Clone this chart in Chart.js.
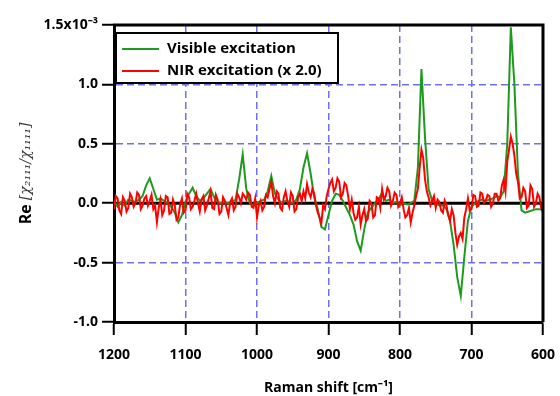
<!DOCTYPE html>
<html>
<head>
<meta charset="utf-8">
<script src="https://cdn.jsdelivr.net/npm/chart.js@4.4.1/dist/chart.umd.min.js"></script>
<style>
  html, body { margin: 0; padding: 0; background: #fff; }
  #wrap { width: 560px; height: 396px; }
</style>
</head>
<body>
<div id="wrap"><canvas id="ramanChart" width="560" height="396"></canvas></div>
<script>
// Raman shift in cm^-1 for the visible trace (x axis runs 1200 -> 600)
const shift = [
  1200, 1195, 1190, 1185, 1180, 1175, 1170, 1165, 1160, 1155,
  1150, 1145, 1140, 1135, 1130, 1125, 1120, 1115, 1110, 1105,
  1100, 1095, 1090, 1085, 1080, 1075, 1070, 1065, 1060, 1055,
  1050, 1045, 1040, 1035, 1030, 1025, 1020, 1015, 1010, 1005,
  1000, 995, 990, 985, 980, 975, 970, 965, 960, 955,
  950, 945, 940, 935, 930, 925, 920, 915, 910, 905,
  900, 895, 890, 885, 880, 875, 870, 865, 860, 855,
  850, 845, 840, 835, 830, 825, 820, 815, 810, 805,
  800, 795, 790, 785, 780, 775, 770, 765, 760, 755,
  750, 745, 740, 735, 730, 725, 720, 715, 710, 705,
  700, 695, 690, 685, 680, 675, 670, 665, 660, 655,
  650, 645, 640, 635, 630, 625, 620, 615, 610, 605,
  600
];

// Re[chi2111/chi1111], in units of 1e-3
const visible = [
  0.02, -0.03, 0.01, -0.02, 0.03, 0.02, 0.01, 0.03, 0.06, 0.15,
  0.21, 0.12, 0.03, 0.04, 0.02, 0.00, -0.03, -0.08, -0.16, -0.10,
  0.01, 0.08, 0.13, 0.06, 0.02, 0.04, 0.08, 0.12, 0.05, 0.01,
  0.00, 0.01, 0.00, 0.01, 0.03, 0.20, 0.41, 0.12, 0.00, -0.02,
  0.00, 0.02, 0.03, 0.10, 0.23, 0.08, 0.03, 0.00, 0.02, 0.01,
  0.00, 0.03, 0.12, 0.30, 0.42, 0.25, 0.05, -0.05, -0.20, -0.22,
  -0.10, 0.02, 0.08, 0.07, 0.02, -0.04, -0.10, -0.18, -0.32, -0.40,
  -0.22, -0.08, -0.04, 0.00, 0.03, 0.09, 0.02, 0.03, 0.00, 0.01,
  -0.02, 0.00, -0.01, 0.00, 0.02, 0.30, 1.13, 0.55, 0.12, 0.02,
  0.00, -0.02, -0.02, -0.05, -0.15, -0.35, -0.62, -0.78, -0.45, -0.15,
  -0.03, 0.00, 0.02, 0.03, 0.02, 0.03, 0.04, 0.06, 0.05, 0.10,
  0.50, 1.48, 1.00, 0.25, -0.06, -0.08, -0.07, -0.06, -0.05, -0.05,
  -0.06
];

// the NIR trace is sampled more finely (2.5 cm^-1)
const nirShift = [
  1200, 1197.5, 1195, 1192.5, 1190, 1187.5, 1185, 1182.5, 1180, 1177.5,
  1175, 1172.5, 1170, 1167.5, 1165, 1162.5, 1160, 1157.5, 1155, 1152.5,
  1150, 1147.5, 1145, 1142.5, 1140, 1137.5, 1135, 1132.5, 1130, 1127.5,
  1125, 1122.5, 1120, 1117.5, 1115, 1112.5, 1110, 1107.5, 1105, 1102.5,
  1100, 1097.5, 1095, 1092.5, 1090, 1087.5, 1085, 1082.5, 1080, 1077.5,
  1075, 1072.5, 1070, 1067.5, 1065, 1062.5, 1060, 1057.5, 1055, 1052.5,
  1050, 1047.5, 1045, 1042.5, 1040, 1037.5, 1035, 1032.5, 1030, 1027.5,
  1025, 1022.5, 1020, 1017.5, 1015, 1012.5, 1010, 1007.5, 1005, 1002.5,
  1000, 997.5, 995, 992.5, 990, 987.5, 985, 982.5, 980, 977.5,
  975, 972.5, 970, 967.5, 965, 962.5, 960, 957.5, 955, 952.5,
  950, 947.5, 945, 942.5, 940, 937.5, 935, 932.5, 930, 927.5,
  925, 922.5, 920, 917.5, 915, 912.5, 910, 907.5, 905, 902.5,
  900, 897.5, 895, 892.5, 890, 887.5, 885, 882.5, 880, 877.5,
  875, 872.5, 870, 867.5, 865, 862.5, 860, 857.5, 855, 852.5,
  850, 847.5, 845, 842.5, 840, 837.5, 835, 832.5, 830, 827.5,
  825, 822.5, 820, 817.5, 815, 812.5, 810, 807.5, 805, 802.5,
  800, 797.5, 795, 792.5, 790, 787.5, 785, 782.5, 780, 777.5,
  775, 772.5, 770, 767.5, 765, 762.5, 760, 757.5, 755, 752.5,
  750, 747.5, 745, 742.5, 740, 737.5, 735, 732.5, 730, 727.5,
  725, 722.5, 720, 717.5, 715, 712.5, 710, 707.5, 705, 702.5,
  700, 697.5, 695, 692.5, 690, 687.5, 685, 682.5, 680, 677.5,
  675, 672.5, 670, 667.5, 665, 662.5, 660, 657.5, 655, 652.5,
  650, 647.5, 645, 642.5, 640, 637.5, 635, 632.5, 630, 627.5,
  625, 622.5, 620, 617.5, 615, 612.5, 610, 607.5, 605, 602.5,
  600
];

// NIR excitation, already multiplied by 2.0
const nir = [
  -0.05, 0.06, 0.04, -0.06, -0.09, 0.05, 0.02, -0.07, -0.04, 0.08,
  0.05, -0.03, 0.00, 0.09, 0.07, -0.05, -0.02, 0.04, 0.06, -0.02,
  0.02, 0.07, -0.05, -0.02, -0.16, -0.04, 0.03, -0.10, -0.06, 0.06,
  0.05, -0.09, -0.08, 0.03, -0.02, -0.14, -0.12, -0.01, 0.04, -0.08,
  -0.06, 0.08, 0.05, -0.05, -0.03, 0.02, 0.08, 0.00, -0.07, 0.03,
  0.06, -0.06, -0.02, 0.04, 0.10, -0.04, -0.05, 0.07, 0.03, -0.09,
  -0.07, 0.05, 0.02, -0.04, -0.10, 0.01, 0.04, -0.06, -0.03, 0.08,
  0.05, 0.00, 0.08, 0.06, 0.03, 0.09, 0.07, -0.03, -0.04, 0.04,
  -0.12, -0.02, 0.02, -0.06, -0.03, 0.07, 0.05, 0.12, 0.18, 0.06,
  0.00, 0.10, 0.08, -0.04, -0.06, 0.05, 0.10, 0.02, -0.03, 0.09,
  0.06, -0.07, -0.05, 0.05, 0.08, 0.02, 0.10, 0.04, 0.16, 0.09,
  0.05, 0.12, 0.08, -0.02, -0.08, -0.12, -0.17, -0.02, -0.05, 0.06,
  0.12, 0.17, 0.20, 0.10, 0.13, 0.21, 0.18, 0.05, 0.08, 0.17,
  0.15, 0.06, -0.05, 0.03, -0.08, -0.14, -0.12, -0.03, -0.18, -0.10,
  -0.05, -0.15, -0.13, 0.02, 0.00, -0.12, -0.10, 0.05, 0.04, -0.04,
  0.12, 0.03, 0.06, 0.13, 0.10, -0.02, 0.02, 0.09, 0.07, -0.03,
  0.00, 0.05, -0.05, -0.12, -0.10, -0.04, -0.16, -0.08, -0.02, 0.06,
  0.12, 0.30, 0.45, 0.38, 0.20, 0.10, 0.05, -0.02, 0.02, 0.06,
  -0.04, 0.03, 0.01, -0.06, -0.08, 0.02, -0.02, -0.10, -0.15, -0.05,
  -0.10, -0.25, -0.35, -0.28, -0.25, -0.30, -0.12, -0.05, 0.04, -0.06,
  -0.05, 0.07, 0.06, -0.03, -0.02, 0.09, 0.08, 0.00, 0.02, 0.07,
  0.06, -0.03, 0.00, 0.08, 0.08, 0.02, 0.04, 0.15, 0.20, 0.10,
  0.35, 0.45, 0.56, 0.50, 0.40, 0.25, 0.18, 0.04, 0.05, 0.13,
  0.10, -0.04, -0.02, 0.15, 0.12, -0.03, 0.00, 0.08, 0.05, -0.04,
  -0.08
];

const xTicks = [1200, 1100, 1000, 900, 800, 700, 600];
const yTicks = [-1.0, -0.5, 0.0, 0.5, 1.0, 1.5];
const seriesNames = ['Visible excitation', 'NIR excitation (x 2.0)'];
const seriesColors = ['#1e9a1e', '#ff0000'];

const gridBlue = '#7070e8';
const tickFont = { family: 'Open Sans', size: 14, weight: 'bold' };

// zero line, frame, legend box and the y title
const decorations = {
  id: 'decorations',
  beforeDatasetsDraw(chart) {
    const ctx = chart.ctx;
    const area = chart.chartArea;
    const y0 = chart.scales.y.getPixelForValue(0);
    ctx.save();
    ctx.strokeStyle = '#000';
    ctx.lineWidth = 3;
    ctx.beginPath();
    ctx.moveTo(area.left, y0);
    ctx.lineTo(area.right, y0);
    ctx.stroke();
    ctx.restore();
  },
  afterDraw(chart) {
    const ctx = chart.ctx;
    const area = chart.chartArea;
    ctx.save();
    ctx.strokeStyle = '#000';
    ctx.lineWidth = 3;
    ctx.beginPath();
    ctx.moveTo(area.left - 1, area.top);
    ctx.lineTo(area.right, area.top);
    ctx.lineTo(area.right, area.bottom);
    ctx.stroke();

    // legend
    const bx = area.left + 2, by = 33, bw = 222, bh = 50;
    ctx.fillStyle = '#fff';
    ctx.fillRect(bx, by, bw, bh);
    ctx.lineWidth = 2;
    ctx.strokeRect(bx, by, bw, bh);
    ctx.font = 'bold 15px "Open Sans"';
    ctx.textBaseline = 'middle';
    ctx.textAlign = 'left';
    seriesNames.forEach((name, i) => {
      const ly = 49 + i * 22;
      ctx.strokeStyle = seriesColors[i];
      ctx.lineWidth = 2;
      ctx.beginPath();
      ctx.moveTo(122, ly);
      ctx.lineTo(159, ly);
      ctx.stroke();
      ctx.fillStyle = '#000';
      ctx.fillText(name, 167, ly);
    });

    // y axis title: bold "Re" then the chi ratio
    const part1 = 'Re ';
    const part2 = '[χ₂₁₁₁/χ₁₁₁₁]';
    ctx.translate(26, (area.top + area.bottom) / 2);
    ctx.rotate(-Math.PI / 2);
    ctx.font = 'bold 16px "Open Sans"';
    const w1 = ctx.measureText(part1).width;
    ctx.font = 'italic 14px "DejaVu Serif"';
    const w2 = ctx.measureText(part2).width;
    let sx = -(w1 + w2) / 2;
    ctx.fillStyle = '#000';
    ctx.font = 'bold 16px "Open Sans"';
    ctx.fillText(part1, sx, 0);
    ctx.fillStyle = '#333';
    ctx.font = 'italic 14px "DejaVu Serif"';
    ctx.fillText(part2, sx + w1, 0);
    ctx.restore();
  }
};

const gridColor = edgeValues => ctx => {
  const v = ctx.tick ? ctx.tick.value : null;
  if (v === null || edgeValues.includes(v)) return 'rgba(0,0,0,0)';
  return gridBlue;
};

new Chart(document.getElementById('ramanChart').getContext('2d'), {
  type: 'line',
  data: {
    datasets: [
      {
        label: seriesNames[1],
        data: nirShift.map((x, i) => ({ x: x, y: nir[i] })),
        borderColor: seriesColors[1],
        borderWidth: 2,
        pointRadius: 0,
        tension: 0,
        order: 0
      },
      {
        label: seriesNames[0],
        data: shift.map((x, i) => ({ x: x, y: visible[i] })),
        borderColor: seriesColors[0],
        borderWidth: 2,
        pointRadius: 0,
        tension: 0,
        order: 1
      }
    ]
  },
  plugins: [decorations],
  options: {
    responsive: false,
    animation: false,
    devicePixelRatio: 1,
    layout: { padding: { top: 25, right: 17, left: 0, bottom: 0 } },
    plugins: {
      legend: { display: false },
      tooltip: { enabled: false }
    },
    scales: {
      x: {
        type: 'linear',
        reverse: true,
        min: 600,
        max: 1200,
        afterBuildTicks: scale => { scale.ticks = xTicks.map(v => ({ value: v })); },
        afterFit: scale => {
          scale.height = 74;
          // keep the end labels from pushing the plot area in
          scale.paddingLeft = 0;
          scale.paddingRight = 0;
        },
        border: { color: '#000', width: 3, dash: [7, 4] },
        grid: {
          color: gridColor([600, 1200]),
          lineWidth: 1.5,
          tickColor: '#000',
          tickWidth: 2,
          tickBorderDash: [],
          tickLength: 13
        },
        ticks: {
          color: '#000',
          font: tickFont,
          padding: 12,
          maxRotation: 0,
          callback: v => String(v)
        },
        title: {
          display: true,
          text: 'Raman shift [cm⁻¹]',
          color: '#000',
          font: { family: 'Open Sans', size: 14, weight: 'bold' },
          padding: { top: 0, bottom: 0 }
        }
      },
      y: {
        type: 'linear',
        min: -1.0,
        max: 1.5,
        afterBuildTicks: scale => { scale.ticks = yTicks.map(v => ({ value: v })); },
        afterFit: scale => {
          scale.width = 114;
          scale.paddingTop = 0;
          scale.paddingBottom = 0;
        },
        border: { color: '#000', width: 3, dash: [7, 4] },
        grid: {
          color: gridColor([-1, 0, 1.5]),
          lineWidth: 1.5,
          tickColor: '#000',
          tickWidth: 2,
          tickBorderDash: [],
          tickLength: 12
        },
        ticks: {
          color: '#000',
          font: tickFont,
          padding: 4,
          callback: v => (v === 1.5 ? '1.5x10⁻³' : v.toFixed(1))
        }
      }
    }
  }
});
</script>
</body>
</html>
